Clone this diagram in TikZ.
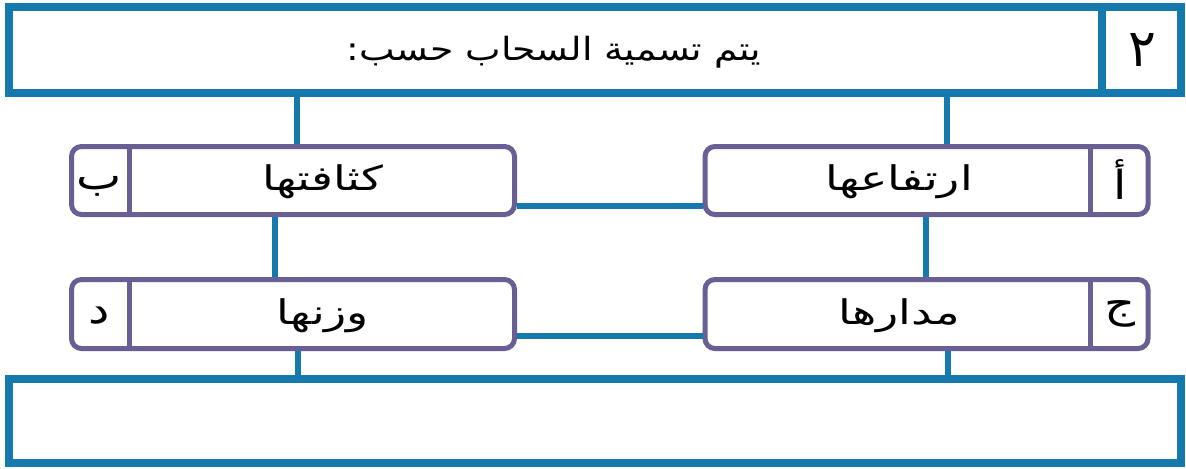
\documentclass[tikz,border=0pt]{standalone}
\usepackage{fontspec}
\newfontfamily\arabicfont[Script=Arabic]{DejaVu Sans}
\TeXXeTstate=1
\definecolor{frameblue}{HTML}{1579AD}
\definecolor{boxpurple}{HTML}{6A5F95}
\tikzset{
  bigframe/.style={draw=frameblue,line width=4pt,fill=white,inner sep=0pt},
  choicebox/.style={draw=boxpurple,line width=2.5pt,fill=white,rounded corners=5pt,
    minimum width=221.5pt,inner sep=0pt},
  link/.style={draw=frameblue,line width=2.8pt},
  word/.style={font=\arabicfont\fontsize{17}{20}\selectfont,xscale=1.35},
  letter/.style={font=\arabicfont\fontsize{20}{22}\selectfont,xscale=1.2}
}
\begin{document}
\begin{tikzpicture}[x=0.5pt,y=-0.5pt]
\useasboundingbox[fill=white] (0,0) rectangle (1186,468);

\node[bigframe,minimum width=586pt,minimum height=43pt] (title) at (594.5,50) {};
\node[bigframe,minimum width=586pt,minimum height=42pt] (answer) at (594.5,421) {};
\draw[frameblue,line width=4pt] (1102,7) -- (1102,93);
\node[font=\arabicfont\fontsize{16}{18}\selectfont,xscale=1.18] (question) at (554,52)
  {\beginR يتم تسمية السحاب حسب:\endR};
\node[font=\arabicfont\fontsize{26}{28}\selectfont] (num) at (1142,50) {\beginR ٢\endR};

\node[choicebox,minimum height=34pt] (height) at (926.5,180.5) {};
\node[choicebox,minimum height=34pt] (density) at (293,180.5) {};
\node[choicebox,minimum height=34.5pt] (orbit) at (926.5,314) {};
\node[choicebox,minimum height=34.5pt] (weight) at (293,314) {};

\draw[boxpurple,line width=2.5pt] (height.north -| 1090,0) -- (height.south -| 1090,0);
\draw[boxpurple,line width=2.5pt] (orbit.north -| 1090,0) -- (orbit.south -| 1090,0);
\draw[boxpurple,line width=2.5pt] (density.north -| 129,0) -- (density.south -| 129,0);
\draw[boxpurple,line width=2.5pt] (weight.north -| 129,0) -- (weight.south -| 129,0);

\node[word] (heighttext) at (899,182) {\beginR ارتفاعها\endR};
\node[word] (densitytext) at (323,182) {\beginR كثافتها\endR};
\node[word] (orbittext) at (899,316) {\beginR مدارها\endR};
\node[word] (weighttext) at (323,316) {\beginR وزنها\endR};

\node[letter] (alef) at (1120,180) {\beginR أ\endR};
\node[letter] (baa) at (99,186) {\beginR ب\endR};
\node[letter] (jeem) at (1120,314) {\beginR ج\endR};
\node[letter] (dal) at (99,316) {\beginR د\endR};

\draw[link] (title.south -| 297,0) -- (density.north -| 297,0);
\draw[link] (title.south -| 947,0) -- (height.north -| 947,0);
\draw[link] (density.east |- 0,206) -- (height.west |- 0,206);
\draw[link] (weight.east |- 0,336) -- (orbit.west |- 0,336);
\draw[link] (density.south -| 275,0) -- (weight.north -| 275,0);
\draw[link] (height.south -| 926,0) -- (orbit.north -| 926,0);
\draw[link] (weight.south -| 298,0) -- (answer.north -| 298,0);
\draw[link] (orbit.south -| 948,0) -- (answer.north -| 948,0);
\end{tikzpicture}
\end{document}
